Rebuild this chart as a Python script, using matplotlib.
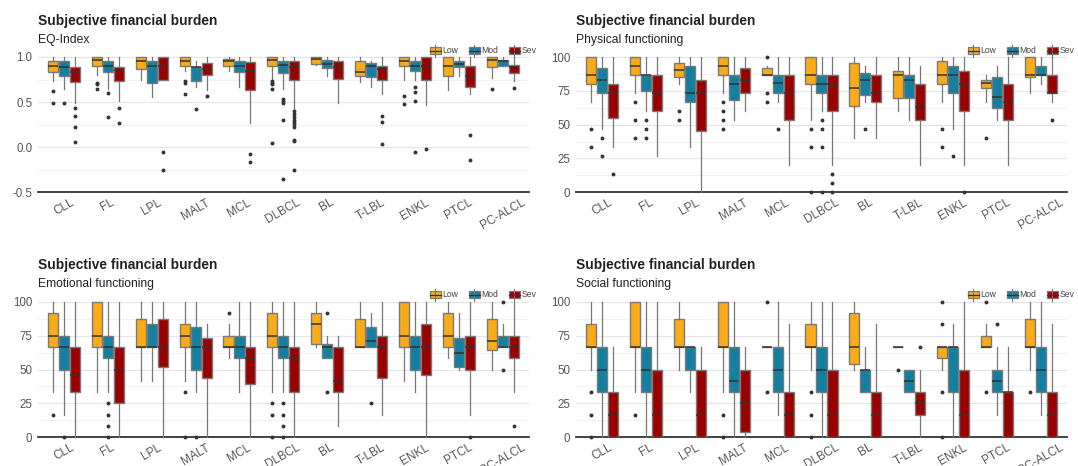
import matplotlib
matplotlib.use('Agg')
import matplotlib.pyplot as plt
from matplotlib.patches import Rectangle
from matplotlib.lines import Line2D
from matplotlib.ticker import MultipleLocator, FormatStrFormatter

plt.rcParams['font.family'] = ['Liberation Sans', 'DejaVu Sans']
plt.rcParams['axes.unicode_minus'] = False

categories = ['CLL', 'FL', 'LPL', 'MALT', 'MCL', 'DLBCL', 'BL', 'T-LBL', 'ENKL', 'PTCL', 'PC-ALCL']
groups = ['Low', 'Mod', 'Sev']
colors = ['#FAAB18', '#1380A1', '#990000']
subtitles = ['EQ-Index', 'Physical functioning', 'Emotional functioning', 'Social functioning']

# box stats per category: (whisker low, q1, median, q3, whisker high)
eq_low = [(0.73, 0.833, 0.90, 0.956, 1.0), (0.80, 0.90, 0.963, 1.0, 1.0), (0.75, 0.863, 0.956, 1.0, 1.0),
          (0.84, 0.90, 0.956, 1.0, 1.0), (0.84, 0.90, 0.956, 0.98, 1.0), (0.75, 0.90, 0.963, 1.0, 1.0),
          (0.91, 0.918, 0.98, 1.0, 1.0), (0.726, 0.79, 0.833, 0.956, 1.0), (0.75, 0.90, 0.956, 1.0, 1.0),
          (0.633, 0.79, 0.90, 1.0, 1.0), (0.77, 0.89, 0.963, 1.0, 1.0)]
eq_low_out = [[0.62, 0.485], [0.71, 0.70, 0.64], [], [0.73, 0.715, 0.585], [],
              [0.73, 0.715, 0.70, 0.65, 0.048], [], [], [0.567, 0.474], [], [0.648]]
eq_mod = [(0.65, 0.79, 0.89, 0.956, 1.0), (0.65, 0.833, 0.90, 0.956, 1.0), (0.56, 0.71, 0.90, 0.956, 1.0),
          (0.67, 0.733, 0.89, 0.89, 0.956), (0.67, 0.833, 0.90, 0.956, 1.0), (0.65, 0.82, 0.907, 0.956, 1.0),
          (0.79, 0.874, 0.926, 0.967, 1.0), (0.67, 0.78, 0.90, 0.937, 0.956), (0.75, 0.844, 0.90, 0.956, 1.0),
          (0.79, 0.89, 0.918, 0.956, 1.0), (0.90, 0.90, 0.956, 0.963, 1.0)]
eq_mod_out = [[0.485], [0.60, 0.34], [], [0.42], [], [0.537, 0.51, 0.485, 0.307, -0.348], [], [],
              [0.67, 0.61, 0.51, -0.052], [], []]
eq_sev = [(0.49, 0.726, 0.83, 0.89, 1.0), (0.51, 0.733, 0.86, 0.89, 1.0), (0.75, 0.75, 0.90, 1.0, 1.0),
          (0.63, 0.796, 0.863, 0.937, 1.0), (0.27, 0.633, 0.844, 0.948, 1.0), (0.42, 0.74, 0.89, 0.956, 1.0),
          (0.49, 0.76, 0.89, 0.956, 1.0), (0.585, 0.75, 0.87, 0.90, 1.0), (0.463, 0.75, 0.90, 1.0, 1.0),
          (0.585, 0.667, 0.79, 0.90, 1.0), (0.733, 0.826, 0.89, 0.907, 1.0)]
eq_sev_out = [[0.44, 0.35, 0.226, 0.056], [0.43, 0.27], [-0.05, -0.256], [0.567], [-0.07, -0.163],
              [0.40, 0.37, 0.337, 0.307, 0.278, 0.252, 0.222, 0.085, 0.067, -0.248], [],
              [0.344, 0.28, 0.037], [-0.015], [0.14, -0.137], [0.652]]

pf_low = [(66.7, 80, 86.7, 100, 100), (73.3, 86.7, 93.3, 100, 100), (80, 85.2, 90.4, 95.6, 100),
          (73.3, 86.7, 93.3, 100, 100), (86.7, 86.7, 86.7, 91.9, 93.3), (53.3, 80, 86.7, 100, 100),
          (40, 63.5, 77, 95.6, 100), (60, 70, 86.7, 90, 100), (66.7, 80, 86.7, 96.7, 100),
          (66.7, 77, 80.7, 83.3, 86.7), (73.3, 85.2, 86.7, 100, 100)]
pf_low_out = [[46.7, 33.3], [66.7, 53.3, 40], [60, 53.3], [66.7, 60, 53.3, 46.7], [100, 73.3, 66.7],
              [46.7, 33.3, 0], [], [], [46.7, 33.3], [40], []]
pf_mod = [(46.7, 73.3, 83.3, 91.7, 100), (60, 75, 86.7, 86.7, 100), (33.3, 66.7, 73.3, 93.3, 100),
          (53.3, 68.3, 80, 86.7, 100), (66.7, 73.3, 80.7, 86.7, 100), (60, 73.3, 80, 86.7, 100),
          (66.7, 71.7, 83.3, 88.3, 93.3), (53.3, 70, 83.3, 86.7, 100), (46.7, 73.3, 86.7, 93.3, 100),
          (53.3, 62.2, 70.4, 85, 93.3), (80, 86.7, 86.7, 93.3, 100)]
pf_mod_out = [[40, 26.7], [53.3, 46.7, 40], [], [], [46.7], [53.3, 46.7, 33.3, 0], [46.7], [],
              [26.7], [], []]
pf_sev = [(33.3, 55, 73.3, 80, 100), (26.7, 60, 73.3, 86.7, 100), (0, 45, 73.3, 83.3, 100),
          (60, 73.3, 83.3, 91.7, 100), (20, 53.3, 73.3, 86.7, 100), (20, 60, 80, 86.7, 100),
          (40, 66.7, 73.3, 86.7, 100), (20, 53.3, 63.3, 80, 93.3), (20, 60, 80, 90, 100),
          (20, 53.3, 66.7, 80, 100), (66.7, 73.3, 73.3, 86.7, 100)]
pf_sev_out = [[13.3], [], [], [], [], [13.3, 6.7, 0], [], [], [0], [], [53.3]]

ef_low = [(33.3, 66.7, 75, 91.7, 100), (33.3, 66.7, 75, 100, 100), (41.7, 66.7, 66.7, 87.5, 100),
          (41.7, 66.7, 75, 83.3, 100), (58.3, 66.7, 66.7, 75, 83.3), (33.3, 66.7, 75, 91.7, 100),
          (66.7, 68.8, 83.3, 91.7, 100), (66.7, 66.7, 66.7, 87.5, 100), (41.7, 66.7, 75, 100, 100),
          (58.3, 66.7, 75, 91.7, 100), (50, 64.6, 70.8, 87.5, 100)]
ef_low_out = [[16.7], [], [], [33.3, 0], [91.7], [25, 16.7, 0], [], [], [], [], []]
ef_mod = [(16.7, 50, 66.7, 75, 100), (33.3, 58.3, 66.7, 75, 100), (41.7, 66.7, 66.7, 83.3, 100),
          (33.3, 50, 66.7, 81.2, 100), (33.3, 58.3, 66.7, 75, 100), (33.3, 58.3, 66.7, 75, 100),
          (58.3, 58.3, 66.7, 68.8, 75), (66.7, 66.7, 70.8, 81.2, 91.7), (33.3, 50, 66.7, 75, 100),
          (50, 52.1, 62.5, 72.9, 91.7), (66.7, 66.7, 66.7, 75, 83.3)]
ef_mod_out = [[0], [25, 16.7, 8.3, 0], [], [0], [], [25, 16.7, 8.3, 0], [91.7, 33.3], [25], [], [],
              [100, 50]]
ef_sev = [(0, 33.3, 45.8, 66.7, 100), (0, 25, 50, 66.7, 100), (0, 52.1, 66.7, 87.5, 100),
          (0, 43.8, 66.7, 72.9, 83.3), (0, 39.6, 58.3, 66.7, 100), (0, 33.3, 58.3, 66.7, 100),
          (8.3, 33.3, 41.7, 66.7, 75), (16.7, 43.8, 66.7, 75, 100), (0, 45.8, 66.7, 83.3, 100),
          (16.7, 50, 66.7, 75, 100), (33.3, 58.3, 66.7, 75, 100)]
ef_sev_out = [[], [], [], [], [], [], [], [], [], [0], [8.3]]

sf_low = [(50, 66.7, 66.7, 83.3, 100), (33.3, 66.7, 66.7, 100, 100), (50, 66.7, 66.7, 87.5, 100),
          (33.3, 66.7, 66.7, 100, 100), (66.7, 66.7, 66.7, 66.7, 66.7), (50, 66.7, 66.7, 83.3, 100),
          (50, 54.2, 66.7, 91.7, 100), (66.7, 66.7, 66.7, 66.7, 66.7), (50, 58.3, 66.7, 66.7, 66.7),
          (66.7, 66.7, 66.7, 75, 83.3), (50, 66.7, 66.7, 87.5, 100)]
sf_low_out = [[33.3, 16.7, 0], [16.7], [], [16.7, 0], [100, 33.3], [33.3, 16.7, 0], [], [50],
              [100, 83.3, 33.3, 0], [100, 33.3], [33.3]]
sf_mod = [(0, 33.3, 50, 66.7, 100), (0, 33.3, 50, 66.7, 100), (33.3, 50, 66.7, 66.7, 66.7),
          (0, 33.3, 41.7, 66.7, 100), (16.7, 33.3, 50, 66.7, 100), (0, 33.3, 50, 66.7, 100),
          (33.3, 33.3, 50, 50, 66.7), (33.3, 33.3, 41.7, 50, 50), (0, 33.3, 66.7, 66.7, 83.3),
          (16.7, 33.3, 41.7, 50, 66.7), (16.7, 33.3, 50, 66.7, 100)]
sf_mod_out = [[], [], [], [], [], [], [], [], [], [83.3], []]
sf_sev = [(0, 0, 16.7, 33.3, 66.7), (0, 0, 16.7, 50, 100), (0, 0, 16.7, 50, 66.7),
          (0, 4.2, 25, 50, 66.7), (0, 0, 16.7, 33.3, 83.3), (0, 0, 16.7, 50, 100),
          (0, 0, 16.7, 33.3, 83.3), (0, 16.7, 25, 33.3, 50), (0, 0, 16.7, 50, 100),
          (0, 0, 33.3, 33.3, 66.7), (0, 0, 16.7, 33.3, 83.3)]
sf_sev_out = [[], [], [], [], [], [], [], [66.7], [], [], []]

W, H = 1078, 466
fig = plt.figure(figsize=(W / 100, H / 100), dpi=100)


def fx(x):
    return x / W


def fy(y):
    return 1 - y / H


panels = [
    dict(rect=(37.7, 529, 55, 192.3), data=(eq_low, eq_mod, eq_sev), out=(eq_low_out, eq_mod_out, eq_sev_out),
         ylim=(-0.5, 1.022), major=0.5, minor=0.25, fmt='%.1f', title=(37.7, 21.5), leg=(435, 474, 514, 50.5)),
    dict(rect=(576, 1067, 55, 192.3), data=(pf_low, pf_mod, pf_sev), out=(pf_low_out, pf_mod_out, pf_sev_out),
         ylim=(0, 101.5), major=25, minor=12.5, fmt='%d', title=(576, 21.5), leg=(973, 1012, 1052, 50.5)),
    dict(rect=(37.7, 529, 299.7, 437.3), data=(ef_low, ef_mod, ef_sev), out=(ef_low_out, ef_mod_out, ef_sev_out),
         ylim=(0, 101.5), major=25, minor=12.5, fmt='%d', title=(37.7, 265.5), leg=(435, 474, 514, 294.5)),
    dict(rect=(576, 1067, 299.7, 437.3), data=(sf_low, sf_mod, sf_sev), out=(sf_low_out, sf_mod_out, sf_sev_out),
         ylim=(0, 101.5), major=25, minor=12.5, fmt='%d', title=(576, 265.5), leg=(973, 1012, 1052, 294.5)),
]

offsets = [-0.25, 0.0, 0.25]
edge = '#7a7a7a'

for p, sub in zip(panels, subtitles):
    x0, x1, yt, yb = p['rect']
    ax = fig.add_axes([fx(x0), fy(yb), fx(x1 - x0), (yb - yt) / H])
    ax.set_xlim(0.4, len(categories) + 0.6)
    ax.set_ylim(*p['ylim'])
    ax.yaxis.set_major_locator(MultipleLocator(p['major']))
    ax.yaxis.set_minor_locator(MultipleLocator(p['minor']))
    ax.yaxis.set_major_formatter(FormatStrFormatter(p['fmt']))
    ax.grid(True, which='major', axis='y', color='#e6e6e6', linewidth=0.9, zorder=0)
    ax.grid(True, which='minor', axis='y', color='#f2f2f2', linewidth=0.9, zorder=0)
    ax.set_axisbelow(True)
    for s in ['top', 'right', 'left']:
        ax.spines[s].set_visible(False)
    ax.spines['bottom'].set_color('#333333')
    ax.spines['bottom'].set_linewidth(1.3)
    ax.tick_params(axis='both', which='both', length=0)
    ax.tick_params(axis='y', labelsize=8.3, labelcolor='#555555', pad=4)
    ax.tick_params(axis='x', labelsize=8.5, labelcolor='#555555', pad=3)
    ax.set_xticks(range(1, len(categories) + 1))
    ax.set_xticklabels(categories, rotation=30, ha='center', va='top')

    for gi, (stats, outs) in enumerate(zip(p['data'], p['out'])):
        bstats = []
        for (lo, q1, md, q3, hi), fl in zip(stats, outs):
            bstats.append(dict(whislo=lo, q1=q1, med=md, q3=q3, whishi=hi, fliers=fl))
        pos = [i + 1 + offsets[gi] for i in range(len(categories))]
        ax.bxp(bstats, positions=pos, widths=0.23, patch_artist=True, showcaps=False,
               boxprops=dict(facecolor=colors[gi], edgecolor=edge, linewidth=1.0),
               medianprops=dict(color='#333333', linewidth=1.1),
               whiskerprops=dict(color='#777777', linewidth=0.9),
               flierprops=dict(marker='o', markersize=2.8, markerfacecolor='#333333',
                               markeredgecolor='none'),
               manage_ticks=False, zorder=3)
        for a in ax.get_children():
            if isinstance(a, Line2D):
                a.set_clip_on(False)

    tx, ty = p['title']
    fig.text(fx(tx), fy(ty), 'Subjective financial burden', fontsize=9.9, fontweight='bold',
             color='#222222', ha='left', va='center')
    fig.text(fx(tx), fy(ty + 18), sub, fontsize=8.7, color='#222222', ha='left', va='center')

    k1, k2, k3, ly = p['leg']
    for kx, g, c in zip((k1, k2, k3), groups, colors):
        fig.add_artist(Line2D([fx(kx), fx(kx)], [fy(ly - 6), fy(ly + 6)], color='#777777',
                              linewidth=0.8, transform=fig.transFigure))
        fig.add_artist(Rectangle((fx(kx - 5.5), fy(ly + 3.5)), 11 / W, 7 / H, facecolor=c,
                                 edgecolor=edge, linewidth=0.9, transform=fig.transFigure))
        fig.add_artist(Line2D([fx(kx - 5.5), fx(kx + 5.5)], [fy(ly), fy(ly)], color='#333333',
                              linewidth=0.9, transform=fig.transFigure))
        fig.text(fx(kx + 7.5), fy(ly), g, fontsize=6.2, color='#444444', ha='left', va='center')

fig.savefig('out.png', dpi=100)
